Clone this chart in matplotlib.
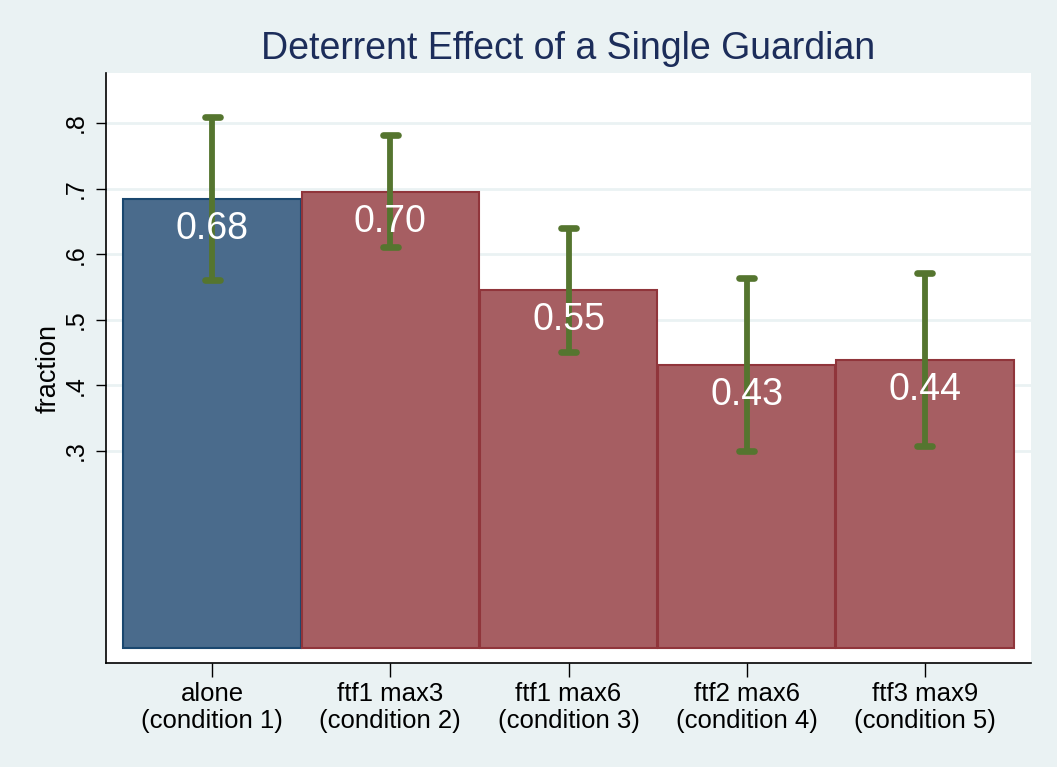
import numpy as np
import matplotlib
matplotlib.use('Agg')
import matplotlib.pyplot as plt

plt.rcParams['font.family'] = ['Liberation Sans', 'DejaVu Sans']

# data
conditions = ['alone\n(condition 1)', 'ftf1 max3\n(condition 2)', 'ftf1 max6\n(condition 3)',
              'ftf2 max6\n(condition 4)', 'ftf3 max9\n(condition 5)']
fractions = [0.684, 0.695, 0.545, 0.431, 0.439]
value_labels = ['0.68', '0.70', '0.55', '0.43', '0.44']
ci_low = [0.561, 0.611, 0.451, 0.300, 0.307]
ci_high = [0.809, 0.782, 0.640, 0.563, 0.571]
y_ticks = [0.3, 0.4, 0.5, 0.6, 0.7, 0.8]
y_ticklabels = ['.3', '.4', '.5', '.6', '.7', '.8']

BG = '#EAF2F3'
fills = ['#4A6B8C'] + ['#A65E62'] * 4
edges = ['#1A476F'] + ['#90353B'] * 4
ERR = '#55752F'

fig = plt.figure(figsize=(10.57, 7.67), dpi=100, facecolor=BG)
ax = fig.add_axes([0.1003, 0.1356, 0.8751, 0.7692])
ax.set_facecolor('white')

x = np.arange(len(fractions))
ax.bar(x, fractions, width=0.995, color=fills, edgecolor=edges, linewidth=1.5, zorder=2)

# confidence intervals
for xi, lo, hi in zip(x, ci_low, ci_high):
    ax.plot([xi, xi], [lo, hi], color=ERR, lw=4.2, solid_capstyle='butt', zorder=3)
    for yy in (lo, hi):
        ax.plot([xi - 0.042, xi + 0.042], [yy, yy], color=ERR, lw=4.8,
                solid_capstyle='round', zorder=3)

# value labels
for xi, v, lab in zip(x, fractions, value_labels):
    ax.annotate(lab, (xi, v), xytext=(0, -30), textcoords='offset pixels',
                ha='center', va='center', color='white', fontsize=27, zorder=4)

ax.set_xlim(-0.595, 4.595)
ax.set_ylim(-0.023, 0.876)
ax.set_yticks(y_ticks)
ax.set_yticklabels(y_ticklabels, rotation=90, va='center', fontsize=18)
ax.set_xticks(x)
ax.set_xticklabels(conditions, fontsize=18.5, linespacing=1.12)
ax.tick_params(axis='y', length=7, width=1, pad=6)
ax.tick_params(axis='x', length=10, width=1, pad=4)
ax.grid(axis='y', color=BG, lw=2, zorder=0)
ax.set_axisbelow(True)
for s in ('top', 'right'):
    ax.spines[s].set_visible(False)
for s in ('left', 'bottom'):
    ax.spines[s].set_linewidth(1.2)

ax.set_ylabel('fraction', fontsize=19.5, labelpad=2)
ax.set_title('Deterrent Effect of a Single Guardian', fontsize=27, color='#1C2D5A', pad=10)

fig.savefig('out.png', dpi=100, facecolor=BG)
